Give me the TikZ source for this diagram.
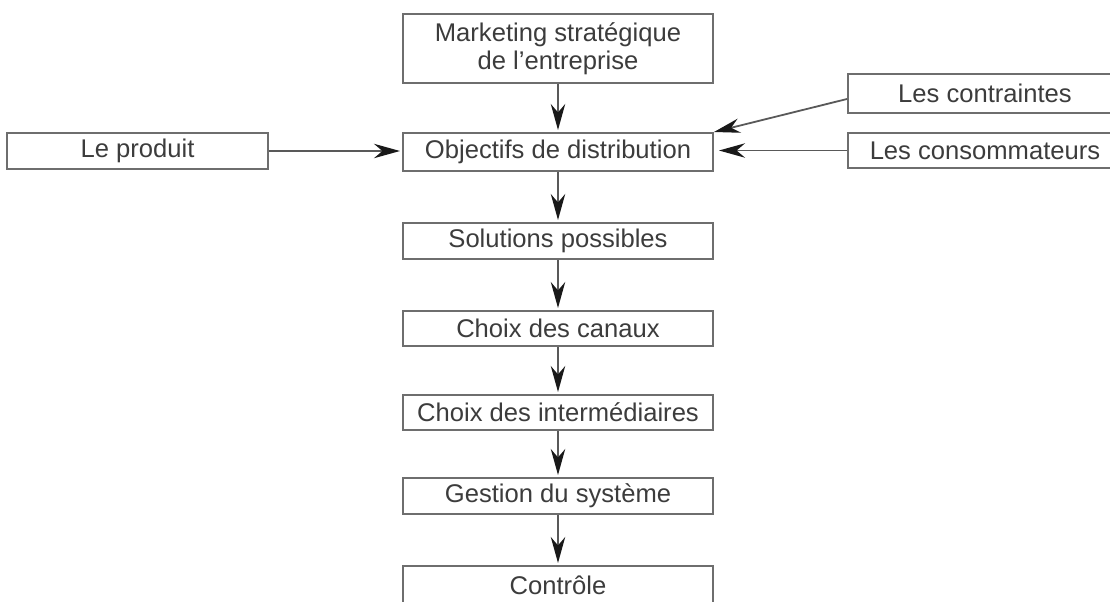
\documentclass[tikz,border=0pt]{standalone}
\usepackage{fontspec}
\setmainfont{Liberation Sans}
\usetikzlibrary{arrows.meta}
\definecolor{boxline}{HTML}{6E6E6E}
\definecolor{labeltext}{HTML}{3C3C3C}
\begin{document}
\begin{tikzpicture}[x=0.5pt,y=-0.5pt,
  box/.style={draw=boxline, line width=1pt, inner sep=0pt, text=labeltext,
    font=\fontsize{12.8}{14}\selectfont, align=center},
  mainbox/.style={box, minimum width=155pt, minimum height=18pt},
  flow/.style={draw=black!65, line width=0.9pt, shorten >=1pt,
    -{Stealth[length=13pt,width=7.2pt,inset=4.2pt,color=black!90]}}
]
\useasboundingbox (0,0) rectangle (1110,601);
\clip (0,0) rectangle (1110,601);

% main chain
\node[mainbox, minimum height=34.5pt] (mkt) at (558,48.5) {Marketing stratégique\\de l’entreprise};
\node[mainbox, minimum height=19pt] (obj) at (558,152) {Objectifs de distribution};
\node[mainbox] (sol) at (558,241) {Solutions possibles};
\node[mainbox, minimum height=17.5pt] (can) at (558,328.5) {Choix des canaux};
\node[mainbox, minimum height=17.5pt] (int) at (558,412.5) {Choix des intermédiaires};
\node[mainbox] (ges) at (558,496) {Gestion du système};
\node[mainbox, minimum height=19pt] (ctl) at (558,585) {Contrôle};

% side inputs
\node[box, minimum width=130.5pt, minimum height=18pt] (prod) at (137.5,151) {Le produit};
\node[box, minimum width=137pt, minimum height=19.5pt] (contr) at (985,93.5) {Les contraintes};
\node[box, minimum width=137pt, minimum height=17.5pt] (cons) at (985,150.5) {Les consommateurs};

% connectors
\draw[flow] (mkt.south) -- (obj.north);
\draw[flow] (obj.south) -- (sol.north);
\draw[flow] (sol.south) -- (can.north);
\draw[flow] (can.south) -- (int.north);
\draw[flow] (int.south) -- (ges.north);
\draw[flow] (ges.south) -- (ctl.north);

\draw[flow] (prod.east) -- (prod.east -| obj.west);
\draw[flow, shorten >=0pt] ([yshift=-2.75pt]contr.west) -- (obj.north east);
\draw[flow, shorten >=2.5pt] (cons.west) -- (cons.west -| obj.east);
\end{tikzpicture}
\end{document}
